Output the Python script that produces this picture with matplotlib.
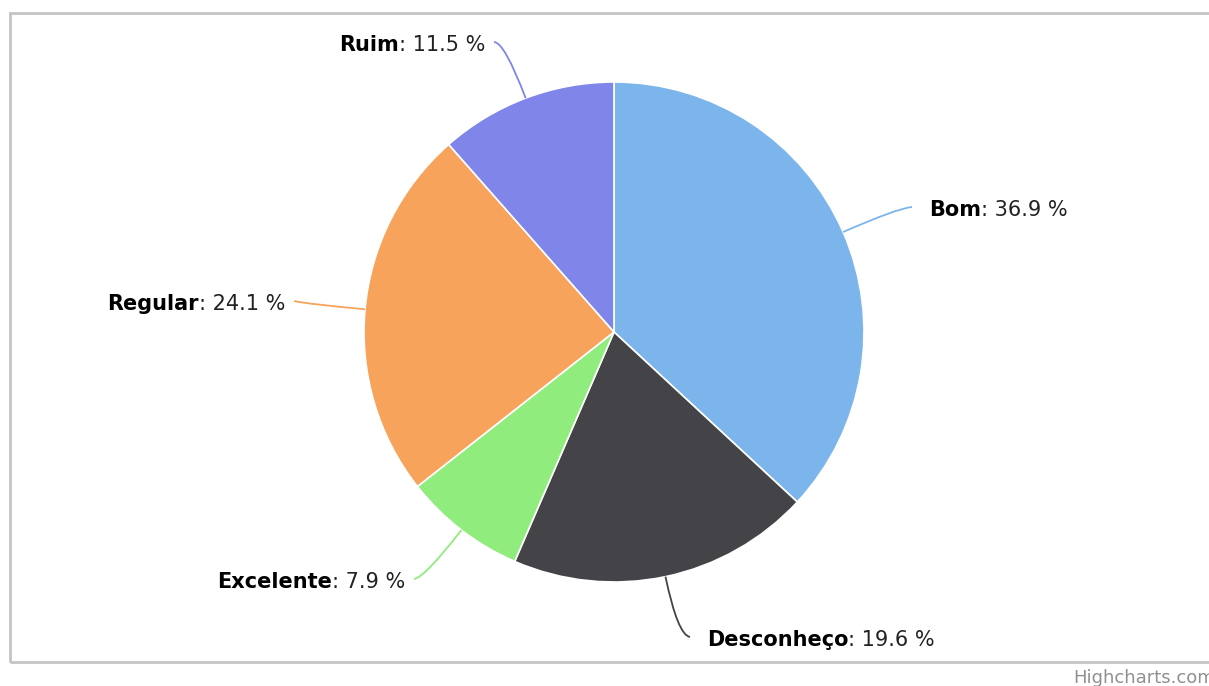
import numpy as np
import matplotlib
matplotlib.use("Agg")
from matplotlib import pyplot as plt
from matplotlib.path import Path
from matplotlib.patches import PathPatch, Rectangle

# slice data (clockwise from 12 o'clock)
names = ['Bom', 'Desconheço', 'Excelente', 'Regular', 'Ruim']
values = [36.9, 19.6, 7.9, 24.1, 11.5]
colors = ['#7cb5ec', '#434348', '#90ed7d', '#f7a35c', '#8085e9']

W, H = 1209, 686
fig = plt.figure(figsize=(W/100, H/100), dpi=100)
ax = fig.add_axes([0, 0, 1, 1])

cx, cy, r = 614, H-332, 250
ax.pie(values, colors=colors, startangle=90, counterclock=False,
       center=(cx, cy), radius=r, frame=True,
       wedgeprops=dict(edgecolor='white', linewidth=1.2))
ax.set_xlim(0, W)
ax.set_ylim(0, H)
ax.set_aspect('equal')
ax.axis('off')

# outer border (runs off the right edge like the original screenshot)
ax.add_patch(Rectangle((10, H-662), 1220, 649, fill=False,
                       edgecolor='#c4c4c4', linewidth=2))

# label anchors (pixel coords, y from top): x, y, side
anchors = {
    'Bom': (929, 210, 'left'),
    'Desconheço': (707, 640, 'left'),
    'Excelente': (405, 582, 'right'),
    'Regular': (285, 304, 'right'),
    'Ruim': (485, 45, 'right'),
}

fig.canvas.draw()
renderer = fig.canvas.get_renderer()
fs = 15
total = sum(values)
cum = 0
for name, v, c in zip(names, values, colors):
    mid = (cum + v/2) / total * 2*np.pi
    cum += v
    dx, dy = np.sin(mid), np.cos(mid)
    x, ypix, side = anchors[name]
    y = H - ypix
    # connector: quadratic curve from pie edge to the label
    p0 = (cx + r*dx, cy + r*dy)
    p1 = (cx + (r+60)*dx, cy + (r+60)*dy)
    p2 = (x - 17 if side == 'left' else x + 9, y + 3)
    path = Path([p0, p1, p2], [Path.MOVETO, Path.CURVE3, Path.CURVE3])
    ax.add_patch(PathPatch(path, fill=False, edgecolor=c, linewidth=1.3))

    val = ': %.1f %%' % v
    if side == 'left':
        t1 = ax.text(x, y, name, fontsize=fs, fontweight='bold', ha='left',
                     va='center', color='black')
        bb = t1.get_window_extent(renderer)
        ax.text(bb.x1, y, val, fontsize=fs, ha='left', va='center', color='#222222')
    else:
        t2 = ax.text(x, y, val, fontsize=fs, ha='right', va='center', color='#222222')
        bb = t2.get_window_extent(renderer)
        ax.text(bb.x0, y, name, fontsize=fs, fontweight='bold', ha='right',
                va='center', color='black')

ax.text(1073, H-683, 'Highcharts.com', fontsize=13, color='#909090',
        ha='left', va='baseline')

fig.savefig('out.png', dpi=100)
